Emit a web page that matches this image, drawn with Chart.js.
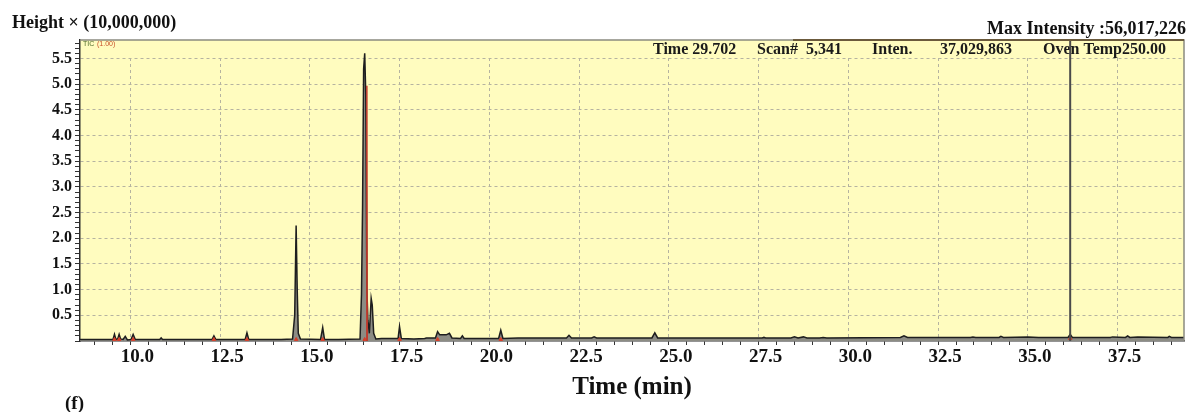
<!DOCTYPE html>
<html>
<head>
<meta charset="utf-8">
<script src="https://cdn.jsdelivr.net/npm/chart.js@4"></script>
<style>
  html, body { margin: 0; padding: 0; background: #ffffff; }
  #wrap { position: relative; width: 1189px; height: 412px; }
</style>
</head>
<body>
<div id="wrap"><canvas id="ticChart"></canvas></div>
<script>
// TIC TRACE (time in min, height in units of 10,000,000)
const ticTimes = [
  8.6, 9.4, 9.52, 9.56, 9.6, 9.65, 9.69, 9.73, 9.8, 9.86, 9.92, 10.02, 10.08, 10.14,
  10.5, 10.82, 10.86, 10.9, 11.5, 12.28, 12.33, 12.38, 13.2, 13.25, 13.3, 14.2,
  14.52, 14.58, 14.62, 14.65, 14.68, 14.74, 15.3, 15.36, 15.41, 15.8,
  16.4, 16.44, 16.47, 16.5, 16.53, 16.56, 16.59, 16.62, 16.66, 16.71, 16.74, 16.78, 16.84,
  17.0, 17.46, 17.5, 17.55, 17.9, 18.2, 18.25, 18.5, 18.56, 18.62, 18.8, 18.89, 18.96,
  19.2, 19.25, 19.3, 19.8, 20.26, 20.32, 20.38, 20.8, 22.15, 22.22, 22.29,
  22.85, 22.92, 22.99, 24.0, 24.53, 24.61, 24.69, 27.6, 27.65, 27.7,
  28.4, 28.5, 28.6, 28.75, 28.85, 29.2, 29.3, 29.4, 31.45, 31.55, 31.65,
  33.4, 33.47, 33.55, 34.2, 34.25, 34.32, 35.0, 35.3, 36.12, 36.18, 36.24,
  37.3, 37.36, 37.72, 37.78, 37.84, 38.06, 38.9, 38.94, 39.0, 39.35
];
const ticHeights = [
  0.03, 0.03, 0.03, 0.13, 0.03, 0.04, 0.13, 0.04, 0.03, 0.09, 0.02, 0.03, 0.13, 0.03,
  0.03, 0.03, 0.06, 0.03, 0.03, 0.03, 0.10, 0.03, 0.03, 0.16, 0.03, 0.03,
  0.04, 0.5, 2.25, 1.0, 0.15, 0.04, 0.03, 0.26, 0.03, 0.03,
  0.04, 0.9, 2.6, 5.3, 5.6, 4.8, 1.0, 0.4, 0.15, 0.83, 0.7, 0.15, 0.04,
  0.05, 0.05, 0.28, 0.05, 0.04, 0.05, 0.06, 0.06, 0.18, 0.12, 0.12, 0.15, 0.06,
  0.05, 0.10, 0.05, 0.05, 0.05, 0.21, 0.05, 0.06, 0.06, 0.11, 0.06,
  0.06, 0.08, 0.06, 0.06, 0.06, 0.16, 0.06, 0.06, 0.07, 0.06,
  0.06, 0.08, 0.06, 0.08, 0.06, 0.06, 0.07, 0.06, 0.07, 0.10, 0.07,
  0.07, 0.08, 0.07, 0.07, 0.09, 0.07, 0.08, 0.07, 0.07, 0.13, 0.07,
  0.07, 0.08, 0.07, 0.10, 0.07, 0.08, 0.07, 0.09, 0.07, 0.07
];

// RED TRACE (single spike on main peak)
const redTimes = [16.58, 16.59, 16.6];
const redHeights = [0.0, 4.97, 0.0];

// RED PEAK MARKERS AT BASELINE
const markerTimes = [9.56, 9.69, 10.08, 12.33, 13.25, 14.62, 15.36, 16.53, 17.5, 18.56, 20.32, 36.18];
const markerHeights = [0.03, 0.03, 0.03, 0.03, 0.03, 0.03, 0.03, 0.03, 0.03, 0.03, 0.03, 0.05];

// CURSOR LINE
const cursorTimes = [36.18, 36.18];
const cursorHeights = [0, 5.86];

// AXES
const xTickValues = [10, 12.5, 15, 17.5, 20, 22.5, 25, 27.5, 30, 32.5, 35, 37.5];
const xTickLabels = ['10.0', '12.5', '15.0', '17.5', '20.0', '22.5', '25.0', '27.5', '30.0', '32.5', '35.0', '37.5'];
const yTickValues = [0.5, 1, 1.5, 2, 2.5, 3, 3.5, 4, 4.5, 5, 5.5];
const yTickLabels = ['0.5', '1.0', '1.5', '2.0', '2.5', '3.0', '3.5', '4.0', '4.5', '5.0', '5.5'];

// HEADER TEXTS
const headerItems = [
  { text: 'Time 29.702', x: 653 },
  { text: 'Scan#  5,341', x: 757 },
  { text: 'Inten.', x: 872 },
  { text: '37,029,863', x: 940 },
  { text: 'Oven Temp250.00', x: 1043 }
];

const SERIF = '"Liberation Serif", "Times New Roman", serif';

function toPoints(xs, ys) {
  return xs.map((x, i) => ({ x: x, y: ys[i] }));
}

function findIndex(list, value) {
  return list.findIndex((v) => Math.abs(v - value) < 1e-6);
}

// PLOT BACKGROUND, STRIP AND TEXTS
const decorPlugin = {
  id: 'decor',
  beforeDraw(chart) {
    const { ctx, chartArea: a } = chart;
    ctx.save();
    ctx.fillStyle = '#fffcbf';
    ctx.fillRect(a.left, a.top, a.right - a.left, a.bottom - a.top);
    ctx.restore();
  },
  beforeDatasetsDraw(chart) {
    const { ctx, chartArea: a } = chart;
    ctx.save();
    // info strip on top of plot
    ctx.fillStyle = '#fffcbf';
    ctx.fillRect(a.left + 1, a.top, a.right - a.left - 2, 17);
    ctx.fillStyle = '#1a1a1a';
    ctx.font = 'bold 16px ' + SERIF;
    ctx.textBaseline = 'middle';
    ctx.textAlign = 'left';
    headerItems.forEach((h) => ctx.fillText(h.text, h.x, a.top + 10));
    // TIC label
    ctx.font = '7px Arial, sans-serif';
    ctx.fillStyle = '#4d6b2a';
    ctx.fillText('TIC', a.left + 3, a.top + 4);
    ctx.fillStyle = '#c8502a';
    ctx.fillText('(1.00)', a.left + 17, a.top + 4);
    ctx.restore();
  },
  afterDraw(chart) {
    const { ctx, chartArea: a } = chart;
    ctx.save();
    // top and right frame
    ctx.strokeStyle = '#8a8a80';
    ctx.lineWidth = 1.5;
    ctx.beginPath();
    ctx.moveTo(a.left, a.top);
    ctx.lineTo(a.right, a.top);
    ctx.lineTo(a.right, a.bottom);
    ctx.stroke();
    ctx.strokeStyle = '#6b5a3c';
    ctx.lineWidth = 2;
    ctx.beginPath();
    ctx.moveTo(793, a.top);
    ctx.lineTo(a.right, a.top);
    ctx.stroke();
    // outer texts
    ctx.fillStyle = '#111';
    ctx.textBaseline = 'alphabetic';
    ctx.font = 'bold 18px ' + SERIF;
    ctx.textAlign = 'left';
    ctx.fillText('Height \u00d7 (10,000,000)', 12, 28);
    ctx.textAlign = 'right';
    ctx.fillText('Max Intensity :56,017,226', 1186, 34);
    ctx.textAlign = 'left';
    ctx.font = 'bold 19px ' + SERIF;
    ctx.fillText('(f)', 65, 409);
    ctx.restore();
  }
};

new Chart(document.getElementById('ticChart'), {
  type: 'line',
  data: {
    datasets: [
      {
        label: 'Cursor',
        data: toPoints(cursorTimes, cursorHeights),
        borderColor: '#4a4a4a',
        borderWidth: 2,
        pointRadius: 0,
        fill: false,
        order: 0
      },
      {
        label: 'Red',
        data: toPoints(redTimes, redHeights),
        borderColor: '#c0392b',
        borderWidth: 1.5,
        pointRadius: 0,
        fill: false,
        order: 1
      },
      {
        label: 'Markers',
        data: toPoints(markerTimes, markerHeights),
        showLine: false,
        pointStyle: 'triangle',
        pointRadius: 2,
        pointBackgroundColor: '#d8402a',
        pointBorderColor: '#d8402a',
        order: 2
      },
      {
        label: 'TIC',
        data: toPoints(ticTimes, ticHeights),
        borderColor: '#1e1e1e',
        backgroundColor: '#8c8c84',
        borderWidth: 1.5,
        pointRadius: 0,
        tension: 0,
        fill: 'origin',
        order: 3
      }
    ]
  },
  options: {
    responsive: true,
    maintainAspectRatio: false,
    animation: false,
    layout: { padding: { top: 40, right: 0, left: 0, bottom: 0 } },
    plugins: {
      legend: { display: false },
      tooltip: { enabled: false }
    },
    scales: {
      x: {
        type: 'linear',
        min: 8.6,
        max: 39.35,
        afterFit: (scale) => { scale.height = 71; },
        border: { display: true, color: '#2a2a2a', width: 1.5, dash: [3, 3] },
        grid: {
          color: (ctx) => (findIndex(xTickValues, ctx.tick.value) >= 0 ? '#b5b3a0' : 'rgba(0,0,0,0)'),
          tickColor: '#333',
          tickLength: 4,
          lineWidth: 1
        },
        ticks: {
          stepSize: 0.5,
          includeBounds: false,
          autoSkip: false,
          maxRotation: 0,
          padding: 1,
          labelOffset: 7,
          color: '#111',
          font: { family: SERIF, size: 19, weight: 'bold' },
          callback: (value) => {
            const i = findIndex(xTickValues, value);
            return i >= 0 ? xTickLabels[i] : '';
          }
        },
        title: {
          display: true,
          text: 'Time (min)',
          color: '#111',
          font: { family: SERIF, size: 25, weight: 'bold' },
          padding: { top: 0, bottom: 9 }
        }
      },
      y: {
        min: 0,
        max: 5.86,
        afterFit: (scale) => { scale.width = 80; },
        border: { display: true, color: '#2a2a2a', width: 1.5, dash: [3, 3] },
        grid: {
          color: (ctx) => (findIndex(yTickValues, ctx.tick.value) >= 0 ? '#b5b3a0' : 'rgba(0,0,0,0)'),
          tickColor: '#333',
          tickLength: 5,
          lineWidth: 1
        },
        ticks: {
          stepSize: 0.1,
          includeBounds: false,
          autoSkip: false,
          maxTicksLimit: 100,
          padding: 3,
          color: '#111',
          font: { family: SERIF, size: 16, weight: 'bold' },
          callback: (value) => {
            const i = findIndex(yTickValues, value);
            return i >= 0 ? yTickLabels[i] : '';
          }
        }
      }
    }
  },
  plugins: [decorPlugin]
});
</script>
</body>
</html>
